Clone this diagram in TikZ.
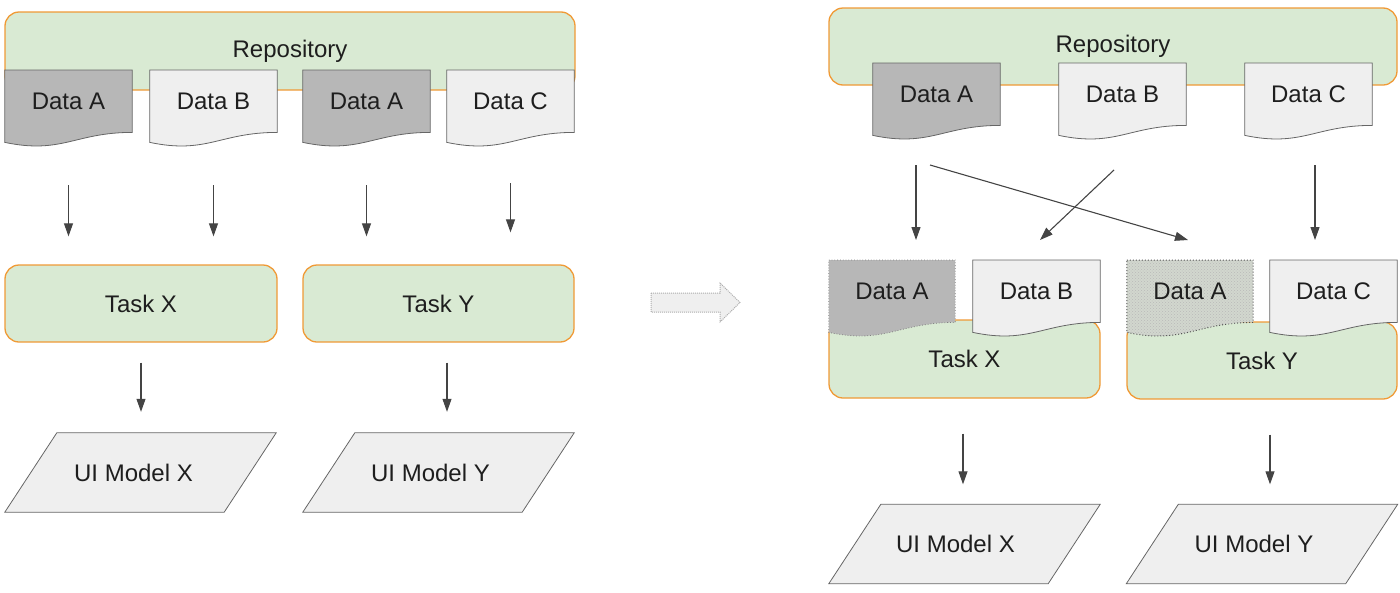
\documentclass[tikz,border=0pt]{standalone}
\usepackage{fontspec}
\setmainfont{Liberation Sans}
\usetikzlibrary{calc,arrows.meta,patterns}
\definecolor{grn}{HTML}{D9EAD3}
\definecolor{org}{HTML}{F09A36}
\definecolor{dk}{HTML}{B7B7B7}
\definecolor{lt}{HTML}{EFEFEF}
\definecolor{edge}{HTML}{666666}
\definecolor{txt}{HTML}{1E1E1E}
\definecolor{arr}{HTML}{444444}
\definecolor{ghost}{HTML}{D2D7CE}
\pgfdeclarelayer{bg}\pgfdeclarelayer{docs}\pgfsetlayers{bg,docs,main}
\tikzset{
 lbl/.style={font=\fontsize{24}{28}\selectfont, text=txt, inner sep=0pt},
 box/.style={lbl, draw=org, fill=grn, line width=1.3pt, rounded corners=14pt},
 docn/.style={lbl, minimum width=127pt, minimum height=62pt, anchor=north},
 darkdoc/.style={draw=edge, line width=0.8pt, fill=dk},
 lightdoc/.style={draw=edge, line width=0.8pt, fill=lt},
 ghostdoc/.style={draw=edge!80!black, line width=1pt, dotted, fill=ghost},
 conn/.style={draw=arr, line width=1.1pt, -{Triangle[length=13pt,width=9pt]}},
 uin/.style={lbl, minimum width=271pt, minimum height=79pt},
 para/.style={draw=edge, line width=0.8pt, fill=lt},
 blockarrow/.style={draw=gray!65, densely dotted, line width=1pt, fill=lt},
}
\newcommand\docpath[2]{%
 \path[#2] (#1.north west) -- (#1.north east) -- (#1.south east)
   .. controls ($(#1.south east)!0.45!(#1.south west)$) and ($(#1.south east)!0.55!(#1.south west)+(0,22)$) .. ($(#1.south west)+(0,10)$) -- cycle;}
\newcommand\parapath[1]{%
 \path[para] ($(#1.north west)+(52,0)$) -- (#1.north east) -- ($(#1.south east)+(-52,0)$) -- (#1.south west) -- cycle;}
\begin{document}
\begin{tikzpicture}[x=1pt,y=-1pt]
\useasboundingbox (0,0) rectangle (1400,592);
% ---------- left ----------
\begin{pgfonlayer}{bg}
\node[box, minimum width=570pt, minimum height=78pt] (repoL) at (290,51) {Repository};
\end{pgfonlayer}
\node[docn] (dA1) at (68.5,70) {Data A};
\node[docn] (dB1) at (213.5,70) {Data B};
\node[docn] (dA2) at (366.5,70) {Data A};
\node[docn] (dC1) at (510.5,70) {Data C};
\begin{pgfonlayer}{docs}
\docpath{dA1}{darkdoc}
\docpath{dB1}{lightdoc}
\docpath{dA2}{darkdoc}
\docpath{dC1}{lightdoc}
\end{pgfonlayer}
\node[box, minimum width=272pt, minimum height=77pt] (tXL) at (141,303.5) {Task X};
\node[box, minimum width=271pt, minimum height=77pt] (tYL) at (438.5,303.5) {Task Y};
\node[uin, label={[lbl,xshift=-7pt]center:UI Model X}] (uXL) at (140.5,472.5) {};
\node[uin, label={[lbl,xshift=-8pt]center:UI Model Y}] (uYL) at (438.5,472.5) {};
\begin{pgfonlayer}{docs}
\parapath{uXL}
\parapath{uYL}
\end{pgfonlayer}
\draw[conn, shorten <=53pt, shorten >=28pt] (dA1.south) -- (dA1.south |- tXL.north);
\draw[conn, shorten <=53pt, shorten >=28pt] (dB1.south) -- (dB1.south |- tXL.north);
\draw[conn, shorten <=53pt, shorten >=28pt] (dA2.south) -- (dA2.south |- tYL.north);
\draw[conn, shorten <=51pt, shorten >=32pt] (dC1.south) -- (dC1.south |- tYL.north);
\draw[conn, shorten <=20pt, shorten >=21pt] (tXL.south) -- (tXL.south |- uXL.north);
\draw[conn, shorten <=20pt, shorten >=21pt] ($(tYL.south)+(8.5,0)$) -- ($(tYL.south |- uYL.north)+(8.5,0)$);
% ---------- transition arrow ----------
\coordinate (trans) at (651,302.5);
\path[blockarrow] (trans) ++(0,-9.5) -- ++(69,0) -- ++(0,-10) -- ++(20,19.5) -- ++(-20,19.5) -- ++(0,-10) -- ++(-69,0) -- cycle;
% ---------- right ----------
\begin{pgfonlayer}{bg}
\node[box, minimum width=568pt, minimum height=77pt] (repoR) at (1113,46.5) {Repository};
\node[box, minimum width=271pt, minimum height=78pt] (tXR) at (964.5,359) {Task X};
\node[box, minimum width=270pt, minimum height=77pt] (tYR) at (1262,360.5) {Task Y};
\end{pgfonlayer}
\node[docn] (dAR) at (936.5,63) {Data A};
\node[docn] (dBR) at (1122.5,63) {Data B};
\node[docn] (dCR) at (1308.5,63) {Data C};
\node[docn, minimum width=126pt] (xA) at (892,260) {Data A};
\node[docn] (xB) at (1036.5,260) {Data B};
\node[docn, minimum width=126pt] (yA) at (1190,260) {Data A};
\node[docn] (yC) at (1333.5,260) {Data C};
\begin{pgfonlayer}{docs}
\docpath{dAR}{darkdoc}
\docpath{dBR}{lightdoc}
\docpath{dCR}{lightdoc}
\docpath{xA}{darkdoc, draw=gray, dotted}
\docpath{xB}{lightdoc}
\docpath{yA}{ghostdoc}
\docpath{yA}{pattern=crosshatch dots, pattern color=gray!55}
\docpath{yC}{lightdoc}
\end{pgfonlayer}
\node[uin, label={[lbl,xshift=-9pt]center:UI Model X}] (uXR) at (964.5,544) {};
\node[uin, label={[lbl,xshift=-8pt]center:UI Model Y}] (uYR) at (1262,544) {};
\begin{pgfonlayer}{docs}
\parapath{uXR}
\parapath{uYR}
\end{pgfonlayer}
\coordinate (r1s) at (916,165); \coordinate (r1e) at (916,240);
\coordinate (r2s) at (930,165); \coordinate (r2e) at (1188,240);
\coordinate (r3s) at (1114,170); \coordinate (r3e) at (1040,240);
\coordinate (r4s) at (1315,165); \coordinate (r4e) at (1315,240);
\draw[conn] (r1s) -- (r1e);
\draw[conn] (r2s) -- (r2e);
\draw[conn] (r3s) -- (r3e);
\draw[conn] (r4s) -- (r4e);
\draw[conn, shorten <=35pt, shorten >=20pt] ($(tXR.south)+(-1.5,0)$) -- ($(tXR.south |- uXR.north)+(-1.5,0)$);
\draw[conn, shorten <=35pt, shorten >=20pt] ($(tYR.south)+(8,0)$) -- ($(tYR.south |- uYR.north)+(8,0)$);
\end{tikzpicture}
\end{document}
